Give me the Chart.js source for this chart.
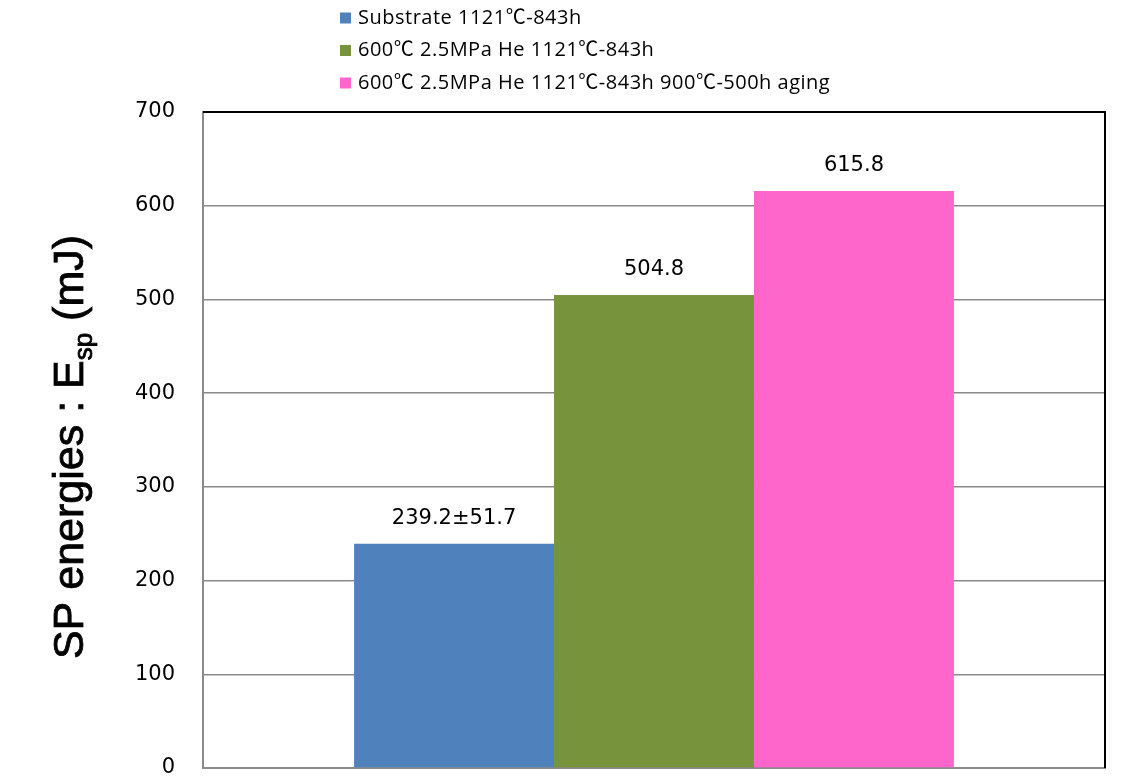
<!DOCTYPE html>
<html>
<head>
<meta charset="utf-8">
<script src="https://cdn.jsdelivr.net/npm/chart.js@4/dist/chart.umd.min.js"></script>
<style>
html,body{margin:0;padding:0;background:#fff;}
#wrap{position:relative;width:1143px;height:777px;}
</style>
</head>
<body>
<div id="wrap"><canvas id="c" width="1143" height="777"></canvas></div>
<script>
const categories = [''];
const seriesNames = [
  'Substrate 1121\u2103-843h',
  '600\u2103 2.5MPa He 1121\u2103-843h',
  '600\u2103 2.5MPa He 1121\u2103-843h 900\u2103-500h aging'
];
const seriesValues = [239.2, 504.8, 615.8];
const valueLabels = ['239.2\u00B151.7', '504.8', '615.8'];
const seriesColors = ['#4F81BD', '#77933C', '#FF66CC'];
const yMin = 0, yMax = 700, yStep = 100;
const yTitleMain = 'SP energies : E';
const yTitleSub = 'sp';
const yTitleEnd = ' (mJ)';

const datasets = seriesNames.map((n, i) => ({
  label: n,
  data: [seriesValues[i]],
  backgroundColor: seriesColors[i],
  borderWidth: 0,
  categoryPercentage: 0.665,
  barPercentage: 1.0
}));

const extras = {
  id: 'extras',
  afterDatasetsDraw(chart) {
    const ctx = chart.ctx;
    const area = chart.chartArea;
    ctx.save();
    // value labels
    ctx.font = '21px "DejaVu Sans"';
    ctx.fillStyle = '#000';
    ctx.textAlign = 'center';
    ctx.textBaseline = 'middle';
    chart.data.datasets.forEach((ds, i) => {
      const el = chart.getDatasetMeta(i).data[0];
      ctx.fillText(valueLabels[i], el.x, el.y - 25);
    });
    // top & right border
    ctx.strokeStyle = '#000';
    ctx.lineWidth = 2;
    ctx.beginPath();
    ctx.moveTo(area.left, area.top);
    ctx.lineTo(area.right, area.top);
    ctx.lineTo(area.right, area.bottom);
    ctx.stroke();
    // legend
    ctx.font = '20px "Open Sans", "Noto Sans CJK JP", sans-serif';
    ctx.letterSpacing = '0.5px';
    ctx.textAlign = 'left';
    ctx.textBaseline = 'middle';
    seriesNames.forEach((n, i) => {
      const y = 18 + i * 32.5;
      ctx.fillStyle = seriesColors[i];
      ctx.fillRect(340, y - 5.5, 11, 11);
      ctx.fillStyle = '#000';
      ctx.fillText(n, 358, y);
    });
    ctx.letterSpacing = '0px';
    // y title with subscript
    const fMain = '43px "Liberation Sans", Arial, sans-serif';
    const fSub = '26px "Liberation Sans", Arial, sans-serif';
    ctx.font = fMain;
    const w1 = ctx.measureText(yTitleMain).width;
    const w3 = ctx.measureText(yTitleEnd).width;
    ctx.font = fSub;
    const w2 = ctx.measureText(yTitleSub).width;
    const total = w1 + w2 + w3;
    ctx.translate(83, 447);
    ctx.rotate(-Math.PI / 2);
    ctx.textBaseline = 'alphabetic';
    ctx.fillStyle = '#000';
    ctx.strokeStyle = '#000';
    ctx.lineWidth = 0.8;
    const draw = (t, x, y) => { ctx.fillText(t, x, y); ctx.strokeText(t, x, y); };
    let x = -total / 2;
    ctx.font = fMain;
    draw(yTitleMain, x, 0);
    x += w1;
    ctx.font = fSub;
    draw(yTitleSub, x, 9);
    x += w2;
    ctx.font = fMain;
    draw(yTitleEnd, x, 0);
    ctx.restore();
  }
};

new Chart(document.getElementById('c'), {
  type: 'bar',
  data: { labels: categories, datasets },
  options: {
    responsive: false,
    devicePixelRatio: 1,
    animation: false,
    layout: { padding: { top: 112, right: 38, bottom: 9, left: 0 } },
    plugins: { legend: { display: false }, tooltip: { enabled: false } },
    scales: {
      x: {
        grid: { display: false },
        ticks: { display: false },
        border: { color: '#8a8a8a', width: 2 },
        afterFit: s => { s.height = 0; }
      },
      y: {
        min: yMin, max: yMax,
        ticks: { stepSize: yStep, color: '#000', font: { family: 'DejaVu Sans', size: 21, lineHeight: 0.8 }, padding: 0 },
        grid: { color: '#8a8a8a', lineWidth: 1.5, tickLength: 28, tickColor: 'rgba(0,0,0,0)' },
        border: { color: '#8a8a8a', width: 2 },
        afterFit: s => { s.width = 203; }
      }
    }
  },
  plugins: [extras]
});
</script>
</body>
</html>
